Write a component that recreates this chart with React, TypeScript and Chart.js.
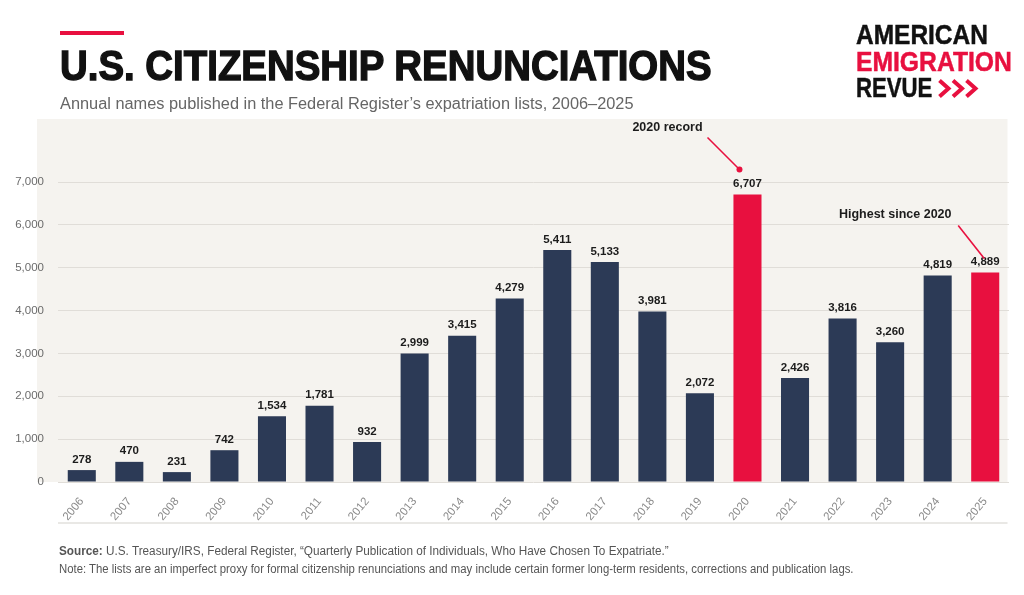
import React, { useEffect, useLayoutEffect, useRef, useState } from "react";
import { Chart, registerables } from "chart.js";

Chart.register(...registerables);

// Annual counts of names in the Federal Register expatriation lists
const years = [
  "2006", "2007", "2008", "2009", "2010", "2011", "2012", "2013", "2014", "2015",
  "2016", "2017", "2018", "2019", "2020", "2021", "2022", "2023", "2024", "2025",
];
const renunciations = [
  278, 470, 231, 742, 1534, 1781, 932, 2999, 3415, 4279,
  5411, 5133, 3981, 2072, 6707, 2426, 3816, 3260, 4819, 4889,
];
const highlightedYears = ["2020", "2025"];
const yTickValues = [0, 1000, 2000, 3000, 4000, 5000, 6000, 7000];
const calloutYears = ["2020", "2025"];
const calloutTexts = ["2020 record", "Highest since 2020"];

const NAVY = "#2c3a56";
const RED = "#e8103f";
const PANEL = "#f5f3ef";
const FONT = "'Liberation Sans', Arial, Helvetica, sans-serif";

const fmt = (v: number) => v.toLocaleString("en-US");

// Text squeezed/stretched horizontally to a given width
function FitText({ width, style, children }: { width: number; style?: React.CSSProperties; children: React.ReactNode }) {
  const ref = useRef<HTMLSpanElement>(null);
  const [scale, setScale] = useState(1);
  useLayoutEffect(() => {
    if (ref.current) {
      const w = ref.current.offsetWidth;
      if (w > 0) setScale(width / w);
    }
  }, [width]);
  return (
    <span
      ref={ref}
      style={{
        display: "inline-block",
        whiteSpace: "nowrap",
        transformOrigin: "left top",
        transform: `scaleX(${scale})`,
        ...style,
      }}
    >
      {children}
    </span>
  );
}

// Beige panel behind the plot, plus the separator under the year labels
const panelPlugin = {
  id: "panel",
  beforeDraw(chart: any) {
    const { ctx, chartArea } = chart;
    ctx.save();
    ctx.fillStyle = PANEL;
    ctx.fillRect(chartArea.left - 21, 119, chartArea.right - 1.5 - (chartArea.left - 21), chartArea.bottom - 119);
    ctx.restore();
  },
  afterDraw(chart: any) {
    const { ctx, chartArea } = chart;
    ctx.save();
    ctx.strokeStyle = "#e2e0dc";
    ctx.lineWidth = 1.5;
    ctx.beginPath();
    ctx.moveTo(chartArea.left, chartArea.bottom + 41);
    ctx.lineTo(chartArea.right - 1.5, chartArea.bottom + 41);
    ctx.stroke();
    ctx.restore();
  },
};

// Value labels above each bar
const valueLabelPlugin = {
  id: "valueLabels",
  afterDatasetsDraw(chart: any) {
    const { ctx } = chart;
    const meta = chart.getDatasetMeta(0);
    ctx.save();
    ctx.font = `bold 11.5px ${FONT}`;
    ctx.fillStyle = "#1c1c1c";
    ctx.textAlign = "center";
    ctx.textBaseline = "alphabetic";
    meta.data.forEach((bar: any, i: number) => {
      ctx.fillText(fmt(renunciations[i]), bar.x, bar.y - 7.5);
    });
    ctx.restore();
  },
};

// Red pointer callouts for the 2020 peak and the 2025 value
const calloutPlugin = {
  id: "callouts",
  afterDatasetsDraw(chart: any) {
    const { ctx } = chart;
    const meta = chart.getDatasetMeta(0);
    ctx.save();
    ctx.strokeStyle = RED;
    ctx.fillStyle = RED;
    ctx.lineWidth = 1.6;
    calloutYears.forEach((year, k) => {
      const i = years.indexOf(year);
      const bar: any = meta.data[i];
      const x = bar.x;
      const top = bar.y;
      let textX: number, textY: number;
      if (k === 0) {
        ctx.beginPath();
        ctx.moveTo(x - 8, top - 25);
        ctx.lineTo(x - 40, top - 57);
        ctx.stroke();
        ctx.beginPath();
        ctx.arc(x - 8, top - 25, 3, 0, Math.PI * 2);
        ctx.fill();
        textX = x - 80;
        textY = top - 64;
      } else {
        ctx.beginPath();
        ctx.moveTo(x - 1, top - 14);
        ctx.lineTo(x - 27, top - 47);
        ctx.stroke();
        textX = x - 90;
        textY = top - 54;
      }
      ctx.save();
      ctx.font = `bold 12.5px ${FONT}`;
      ctx.fillStyle = "#1c1c1c";
      ctx.textAlign = "center";
      ctx.textBaseline = "alphabetic";
      ctx.fillText(calloutTexts[k], textX, textY);
      ctx.restore();
    });
    ctx.restore();
  },
};

function RenunciationChart() {
  const canvasRef = useRef<HTMLCanvasElement>(null);

  useEffect(() => {
    if (!canvasRef.current) return;
    const chart = new Chart(canvasRef.current, {
      type: "bar",
      data: {
        labels: years,
        datasets: [
          {
            data: renunciations,
            backgroundColor: years.map((y) => (highlightedYears.includes(y) ? RED : NAVY)),
            borderWidth: 0,
            barPercentage: 0.59,
            categoryPercentage: 1,
          },
        ],
      },
      options: {
        responsive: false,
        animation: false,
        layout: { padding: { top: 182, right: 15, left: 0, bottom: 0 } },
        plugins: {
          legend: { display: false },
          tooltip: { enabled: false },
        },
        scales: {
          x: {
            grid: { display: false },
            border: { display: false },
            ticks: {
              color: "#8a8a8a",
              font: { family: FONT, size: 11.5 },
              minRotation: 50,
              maxRotation: 50,
              padding: 5,
              autoSkip: false,
            },
            afterFit: (s: any) => {
              s.height = 113;
            },
          },
          y: {
            min: 0,
            max: 7000,
            afterBuildTicks: (s: any) => {
              s.ticks = yTickValues.map((v) => ({ value: v }));
            },
            grid: { color: "#e0ddd8", lineWidth: 1, drawTicks: false },
            border: { display: false },
            ticks: {
              color: "#6b6b6b",
              font: { family: FONT, size: 11.5 },
              padding: 14,
              callback: (v: any) => fmt(Number(v)),
            },
            afterFit: (s: any) => {
              s.width = 58;
            },
          },
        },
      },
      plugins: [panelPlugin, valueLabelPlugin, calloutPlugin],
    });
    return () => chart.destroy();
  }, []);

  return <canvas ref={canvasRef} width={1024} height={595} style={{ position: "absolute", left: 0, top: 0 }} />;
}

export default function App() {
  return (
    <div
      style={{
        position: "fixed",
        left: 0,
        top: 0,
        width: 1024,
        height: 595,
        background: "#ffffff",
        overflow: "hidden",
        fontFamily: FONT,
      }}
    >
      <RenunciationChart />

      <div style={{ position: "absolute", left: 60, top: 31, width: 64, height: 4, background: RED }} />

      <div style={{ position: "absolute", left: 60, top: 44.5, lineHeight: "42px", fontSize: 42 }}>
        <FitText width={652} style={{ fontWeight: 700, color: "#111", WebkitTextStroke: "1.4px #111" }}>
          U.S. CITIZENSHIP RENUNCIATIONS
        </FitText>
      </div>

      <div style={{ position: "absolute", left: 60, top: 95.5, lineHeight: "16px", fontSize: 16 }}>
        <FitText width={574} style={{ color: "#666" }}>
          Annual names published in the Federal Register’s expatriation lists, 2006–2025
        </FitText>
      </div>

      <div style={{ position: "absolute", left: 856, top: 21.3, lineHeight: "28px", fontSize: 28 }}>
        <FitText width={132} style={{ fontWeight: 700, color: "#111", WebkitTextStroke: "0.5px #111" }}>AMERICAN</FitText>
      </div>
      <div style={{ position: "absolute", left: 856, top: 48.3, lineHeight: "28px", fontSize: 28 }}>
        <FitText width={156} style={{ fontWeight: 700, color: RED, WebkitTextStroke: `0.5px ${RED}` }}>EMIGRATION</FitText>
      </div>
      <div style={{ position: "absolute", left: 856, top: 74.3, lineHeight: "28px", fontSize: 28 }}>
        <FitText width={76} style={{ fontWeight: 700, color: "#111", WebkitTextStroke: "0.5px #111" }}>REVUE</FitText>
      </div>
      <svg style={{ position: "absolute", left: 937, top: 78 }} width={48} height={22}>
        {[0, 13.5, 27].map((dx) => (
          <polyline
            key={dx}
            points={`${dx + 2.5},2.5 ${dx + 11.5},10.5 ${dx + 2.5},18.5`}
            fill="none"
            stroke={RED}
            strokeWidth={4}
          />
        ))}
      </svg>

      <div style={{ position: "absolute", left: 59, top: 544.5, lineHeight: "12px", fontSize: 12 }}>
        <FitText width={610} style={{ color: "#555" }}>
          <b>Source:</b> U.S. Treasury/IRS, Federal Register, “Quarterly Publication of Individuals, Who Have Chosen To Expatriate.”
        </FitText>
      </div>
      <div style={{ position: "absolute", left: 59, top: 563, lineHeight: "12px", fontSize: 12 }}>
        <FitText width={795} style={{ color: "#555" }}>
          Note: The lists are an imperfect proxy for formal citizenship renunciations and may include certain former long-term residents, corrections and publication lags.
        </FitText>
      </div>
    </div>
  );
}
